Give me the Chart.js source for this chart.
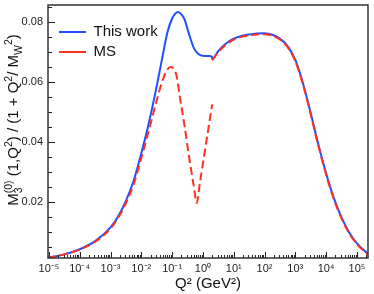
<!DOCTYPE html>
<html>
<head>
<meta charset="utf-8">
<script src="https://cdn.jsdelivr.net/npm/chart.js@4.4.0/dist/chart.umd.min.js"></script>
<style>
html,body{margin:0;padding:0;background:#fff;}
</style>
</head>
<body>
<canvas id="c" width="374" height="294"></canvas>
<script>
// x values are log10(Q^2 / GeV^2)
var workLogQ2 = [-5.03,-4.5,-4,-3.5,-3,-2.75,-2.5,-2.25,-2,-1.75,-1.5,-1.3,-1.15,-1,-0.9,-0.8,-0.7,-0.6,-0.5,-0.4,-0.3,-0.2,-0.1,0,0.1,0.2,0.29,0.302,0.5,0.75,1,1.25,1.5,1.75,2,2.25,2.5,2.75,3,3.25,3.5,3.75,4,4.25,4.5,4.75,5,5.36];
var workVals  = [0.0014,0.0025,0.0042,0.0069,0.0115,0.0152,0.0203,0.0270,0.0362,0.0465,0.0585,0.0690,0.0765,0.0810,0.0826,0.0832,0.0824,0.0808,0.0775,0.0742,0.0713,0.0697,0.0689,0.0686,0.0685,0.0685,0.0684,0.0675,0.0702,0.0727,0.0743,0.0752,0.0757,0.0760,0.0761,0.0756,0.0743,0.0718,0.0672,0.0594,0.0495,0.0390,0.0295,0.0213,0.0148,0.0098,0.0062,0.0027];

var msLogQ2 = [-5.03,-4.5,-4,-3.5,-3,-2.75,-2.5,-2.25,-2,-1.75,-1.5,-1.35,-1.2,-1.05,-0.95,-0.85,-0.75,-0.6,-0.45,-0.3,-0.2,-0.1,0,0.1,0.2,0.3,0.301,0.302,0.5,0.75,1,1.25,1.5,1.75,2,2.25,2.5,2.75,3,3.25,3.5,3.75,4,4.25,4.5,4.75,5,5.36];
var msVals  = [0.0014,0.0025,0.0041,0.0067,0.0111,0.0147,0.0196,0.0258,0.0345,0.0440,0.0538,0.0592,0.0632,0.0649,0.0643,0.0617,0.0550,0.0455,0.0350,0.0254,0.0196,0.0262,0.0327,0.0393,0.0459,0.0524,null,0.0671,0.0698,0.0723,0.0740,0.0749,0.0754,0.0757,0.0758,0.0753,0.0740,0.0715,0.0668,0.0590,0.0491,0.0386,0.0291,0.0209,0.0145,0.0095,0.0059,0.0024];

var decades = [-5,-4,-3,-2,-1,0,1,2,3,4,5];
var xTickLabels = ['10⁻⁵','10⁻⁴','10⁻³','10⁻²','10⁻¹','10⁰','10¹','10²','10³','10⁴','10⁵'];
var yLabelled = [0.02,0.04,0.06,0.08];
var yTickLabels = ['0.02','0.04','0.06','0.08'];

function pts(xs, ys){
  return xs.map(function(x, i){ return {x: x, y: ys[i]}; });
}

Chart.defaults.font.family = "'Liberation Sans', Arial, sans-serif";
Chart.defaults.color = '#222';

// frame and inward tick marks
var frameTicks = {
  id: 'frameTicks',
  afterDatasetsDraw: function(chart){
    var ctx = chart.ctx, a = chart.chartArea, x = chart.scales.x, y = chart.scales.y;
    ctx.save();
    ctx.strokeStyle = '#222';
    ctx.lineWidth = 1;
    ctx.beginPath();
    for (var d = -6; d <= 5; d++) {
      for (var k = 1; k <= 9; k++) {
        var v = d + Math.log10(k);
        if (v < x.min || v > x.max) continue;
        var px = Math.round(x.getPixelForValue(v)) + 0.5;
        var len = k === 1 ? 6 : 3;
        ctx.moveTo(px, a.bottom);
        ctx.lineTo(px, a.bottom - len);
      }
    }
    y.ticks.forEach(function(t){
      var py = Math.round(y.getPixelForValue(t.value)) + 0.5;
      var len = t.label ? 7 : 4;
      ctx.moveTo(a.left, py);
      ctx.lineTo(a.left + len, py);
    });
    ctx.stroke();
    ctx.lineWidth = 1.5;
    ctx.strokeStyle = '#333';
    ctx.strokeRect(a.left, a.top, a.right - a.left, a.bottom - a.top);
    ctx.restore();
  }
};

// y title with sub/superscripts, rotated
var yTitle = {
  id: 'yTitle',
  afterDraw: function(chart){
    var ctx = chart.ctx;
    var big = "15px 'Liberation Sans', Arial, sans-serif";
    var small = "10.5px 'Liberation Sans', Arial, sans-serif";
    var pieces = [
      {t:'M', s:0},
      {t:'3', s:1, keep:true},
      {t:'(0)', s:-1},
      {t:' (1,Q', s:0},
      {t:'2', s:-1},
      {t:') / (1 + Q', s:0},
      {t:'2', s:-1},
      {t:'/ M', s:0},
      {t:'W', s:1},
      {t:'2', s:-1},
      {t:')', s:0}
    ];
    ctx.save();
    var total = 0, kept = 0;
    pieces.forEach(function(p){
      ctx.font = p.s ? small : big;
      p.w = ctx.measureText(p.t).width;
      if (p.keep) { kept = p.w; return; }
      total += Math.max(p.w, kept); kept = 0;
    });
    ctx.translate(17.5, 120);
    ctx.rotate(-Math.PI / 2);
    ctx.fillStyle = '#111';
    ctx.textBaseline = 'alphabetic';
    var u = -total / 2; kept = 0;
    pieces.forEach(function(p){
      ctx.font = p.s ? small : big;
      var v = p.s === 1 ? 4 : (p.s === -1 ? -6 : 0);
      ctx.fillText(p.t, u, v);
      if (p.keep) { kept = p.w; return; }
      u += Math.max(p.w, kept); kept = 0;
    });
    ctx.restore();
  }
};

// place legend inside the frame, top-left
var legendPlace = {
  id: 'legendPlace',
  afterLayout: function(chart){
    var lg = chart.legend, a = chart.chartArea;
    lg.left = a.left + 6;
    lg.top = 19.5;
    lg.right = a.right;
    lg.bottom = a.bottom;
  }
};

new Chart(document.getElementById('c'), {
  type: 'line',
  data: {
    datasets: [
      {
        label: 'This work',
        data: pts(workLogQ2, workVals),
        borderColor: '#1f4fff',
        backgroundColor: '#1f4fff',
        borderWidth: 2,
        pointRadius: 0,
        fill: false,
        cubicInterpolationMode: 'monotone',
        order: 1
      },
      {
        label: 'MS',
        data: pts(msLogQ2, msVals),
        borderColor: '#ff3020',
        backgroundColor: '#ff3020',
        borderWidth: 2,
        borderDash: [8, 4],
        pointRadius: 0,
        fill: false,
        spanGaps: false,
        cubicInterpolationMode: 'monotone',
        order: 0
      }
    ]
  },
  options: {
    responsive: false,
    animation: false,
    layout: { padding: { top: 5, right: 6, left: 0, bottom: 0 } },
    plugins: {
      tooltip: { enabled: false },
      legend: {
        position: 'chartArea',
        align: 'start',
        labels: {
          usePointStyle: true,
          pointStyle: 'line',
          pointStyleWidth: 27,
          padding: 5,
          color: '#111',
          font: { size: 15 },
          sort: function(a, b){ return a.datasetIndex - b.datasetIndex; }
        }
      }
    },
    scales: {
      x: {
        type: 'linear',
        min: -5.03,
        max: 5.36,
        afterBuildTicks: function(s){ s.ticks = decades.map(function(v){ return {value: v}; }); },
        afterFit: function(s){ s.height = 36; s.paddingLeft = 0; s.paddingRight = 0; },
        grid: { display: false, drawTicks: false },
        border: { display: false },
        ticks: {
          autoSkip: false,
          maxRotation: 0,
          padding: 4,
          font: { size: 11 },
          color: '#222',
          callback: function(v){ var i = decades.indexOf(v); return i < 0 ? '' : xTickLabels[i]; }
        },
        title: { display: true, text: 'Q² (GeV²)', color: '#111', font: { size: 15 }, padding: { top: 0, bottom: 1 } }
      },
      y: {
        type: 'linear',
        min: 0.0013,
        max: 0.0855,
        afterBuildTicks: function(s){
          var t = [];
          for (var i = 1; i <= 17; i++) t.push({value: Math.round(i * 5) / 1000});
          s.ticks = t;
        },
        afterFit: function(s){ s.width = 48; s.paddingTop = 0; s.paddingBottom = 0; },
        grid: { display: false, drawTicks: false },
        border: { display: false },
        ticks: {
          autoSkip: false,
          padding: 5,
          font: { size: 11 },
          color: '#222',
          callback: function(v){
            for (var i = 0; i < yLabelled.length; i++) if (Math.abs(v - yLabelled[i]) < 1e-6) return yTickLabels[i];
            return '';
          }
        }
      }
    }
  },
  plugins: [frameTicks, yTitle, legendPlace]
});
</script>
</body>
</html>
